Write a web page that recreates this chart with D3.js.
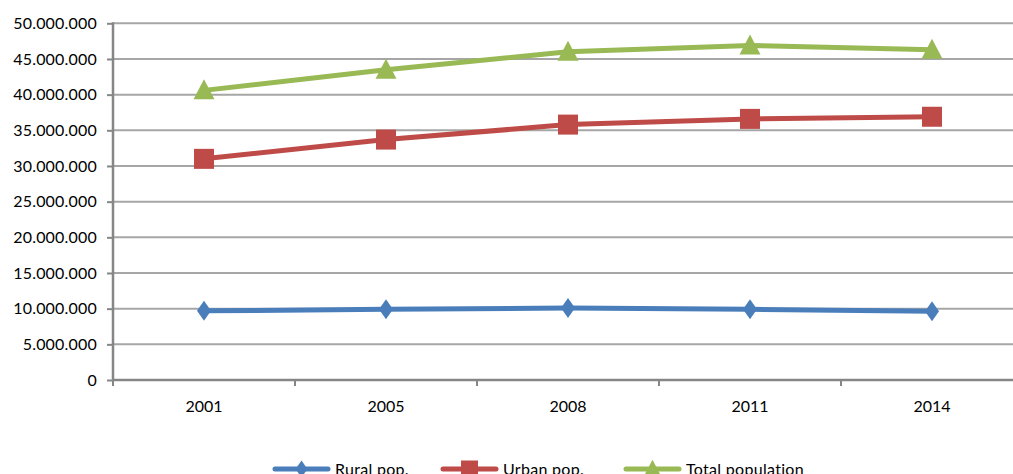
<!DOCTYPE html>
<html><head><meta charset="utf-8">
<script src="https://cdn.jsdelivr.net/npm/d3@7"></script>
<style>html,body{margin:0;padding:0;background:#fff;overflow:hidden}svg{display:block}text{font-family:Lato,"Open Sans",sans-serif;fill:#000}</style>
</head><body><svg id="c" width="1013" height="474"></svg>
<script>
const categories = ["2001","2005","2008","2011","2014"];
const rural = [9700000, 9900000, 10100000, 9900000, 9650000];
const urban = [31000000, 33700000, 35800000, 36600000, 36900000];
const total = [40600000, 43500000, 46000000, 46900000, 46300000];
const seriesNames = ["Rural pop.","Urban pop.","Total population"];
const colors = ["#4a7ebb","#be4b48","#98b954"];
const markers = ["diamond","square","triangle"];
const yTicks = [0,5000000,10000000,15000000,20000000,25000000,30000000,35000000,40000000,45000000,50000000];

(function(){
const svg = d3.select("#c");
const pl = 113, pr = 1023, pt = 23.3, pb = 380;
const x = d3.scaleBand().domain(categories).range([pl, pr]);
const y = d3.scaleLinear().domain([0, 50000000]).range([pb, pt]);
const fmt = v => d3.format(",")(v).replace(/,/g, ".");

svg.append("g").selectAll("line").data(yTicks.slice(1)).join("line")
  .attr("x1", pl).attr("x2", 1013).attr("y1", d=>y(d)).attr("y2", d=>y(d))
  .attr("stroke", "#a6a6a6").attr("stroke-width", 2);

const ya = svg.append("g").attr("transform", `translate(${pl},0)`)
  .call(d3.axisLeft(y).tickValues(yTicks).tickFormat(fmt).tickSize(6).tickPadding(10));
ya.select(".domain").remove();
ya.selectAll(".tick line").attr("stroke", "#868686").attr("stroke-width", 2);
ya.selectAll("text").attr("font-size", 16).attr("letter-spacing", "0.2px").attr("fill","#000");
svg.append("line").attr("x1", pl).attr("x2", pl).attr("y1", pt-1).attr("y2", pb+1)
  .attr("stroke", "#868686").attr("stroke-width", 2.5);

const xa = svg.append("g").attr("transform", `translate(0,${pb})`)
  .call(d3.axisBottom(x).tickSize(0).tickPadding(21));
xa.select(".domain").remove();
xa.selectAll("text").attr("font-size", 16).attr("fill","#000");
svg.append("line").attr("x1", pl).attr("x2", 1013).attr("y1", pb).attr("y2", pb)
  .attr("stroke", "#868686").attr("stroke-width", 2.5);
const bounds = categories.map(c => x(c)).concat([pr]);
svg.append("g").selectAll("line").data(bounds).join("line")
  .attr("x1", d=>d).attr("x2", d=>d).attr("y1", pb).attr("y2", pb+6)
  .attr("stroke", "#868686").attr("stroke-width", 2);

function marker(g, type, cx, cy, color, s) {
  if (type === "diamond") {
    g.append("path").attr("d", `M${cx},${cy-10*s}L${cx+7*s},${cy}L${cx},${cy+10*s}L${cx-7*s},${cy}Z`).attr("fill", color);
  } else if (type === "square") {
    g.append("rect").attr("x", cx-10*s).attr("y", cy-10*s).attr("width", 20*s).attr("height", 20*s).attr("fill", color);
  } else {
    g.append("path").attr("d", `M${cx},${cy-11*s}L${cx+10.5*s},${cy+9*s}L${cx-10.5*s},${cy+9*s}Z`).attr("fill", color);
  }
}

const data = [rural, urban, total];
const line = d3.line().x((d,i)=>x(categories[i]) + x.bandwidth()/2).y(d=>y(d));
data.forEach((vals, k) => {
  const g = svg.append("g");
  g.append("path").datum(vals).attr("d", line).attr("fill","none")
    .attr("stroke", colors[k]).attr("stroke-width", 5).attr("stroke-linejoin","round");
  vals.forEach((v,i) => marker(g, markers[k], x(categories[i]) + x.bandwidth()/2, y(v), colors[k], 1));
});

const legX = [273, 441, 624];
const legY = 469;
seriesNames.forEach((n,k) => {
  const g = svg.append("g");
  g.append("line").attr("x1", legX[k]+2).attr("x2", legX[k]+55).attr("y1", legY).attr("y2", legY)
    .attr("stroke", colors[k]).attr("stroke-width", 5).attr("stroke-linecap","round");
  marker(g, markers[k], legX[k]+28.5, legY, colors[k], 0.85);
  g.append("text").attr("x", legX[k]+62).attr("y", legY+6).attr("font-size", 16).attr("letter-spacing","0.3px").text(n);
});
})();
</script></body></html>
